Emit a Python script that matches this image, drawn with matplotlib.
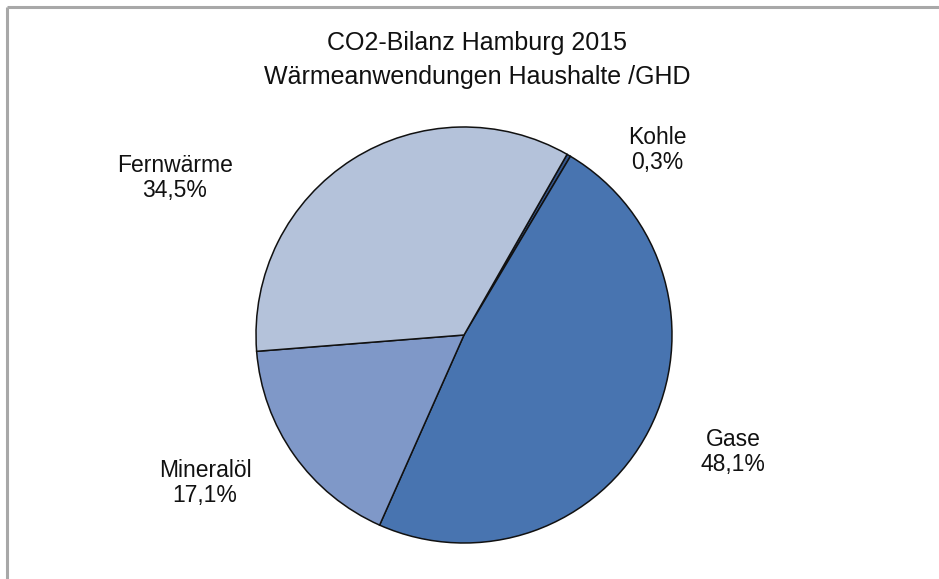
import matplotlib
matplotlib.use("Agg")
import matplotlib.pyplot as plt

categories = ["Kohle", "Gase", "Mineralöl", "Fernwärme"]
values = [0.3, 48.1, 17.1, 34.5]
value_labels = ["0,3%", "48,1%", "17,1%", "34,5%"]
colors = ["#34558a", "#4874b0", "#7f98c8", "#b4c2da"]
title_lines = ["CO2-Bilanz Hamburg 2015", "Wärmeanwendungen Haushalte /GHD"]

plt.rcParams['font.family'] = ['Liberation Sans', 'DejaVu Sans']

W, H = 939, 579
fig = plt.figure(figsize=(W / 100, H / 100), dpi=100)
ax = fig.add_axes([0, 0, 1, 1])

cx, cy, r = 464, H - 335, 208
ax.pie(values, colors=colors, startangle=60.3, counterclock=False,
       center=(cx, cy), radius=r,
       wedgeprops=dict(edgecolor='#111111', linewidth=1.1))
ax.set_xlim(0, W)
ax.set_ylim(0, H)
ax.set_aspect('equal')
ax.axis('off')

label_pos = {"Kohle": (657, 150), "Gase": (733, 452),
             "Mineralöl": (205, 483), "Fernwärme": (175, 178)}
for cat, vl in zip(categories, value_labels):
    x, y = label_pos[cat]
    ax.text(x, H - y, f"{cat}\n{vl}", ha='center', va='center',
            fontsize=16.5, color='#111111', linespacing=1.12)

ax.text(477, H - 60, "\n".join(title_lines), ha='center', va='center',
        fontsize=18, color='#111111', linespacing=1.5)

# frame (top and left lines)
ax.plot([7, W], [H - 7, H - 7], color='#a8a8a8', lw=2.2, solid_capstyle='butt')
ax.plot([7, 7], [H - 7, 0], color='#a8a8a8', lw=2.2, solid_capstyle='butt')

fig.savefig("out.png", dpi=100, facecolor='white')
